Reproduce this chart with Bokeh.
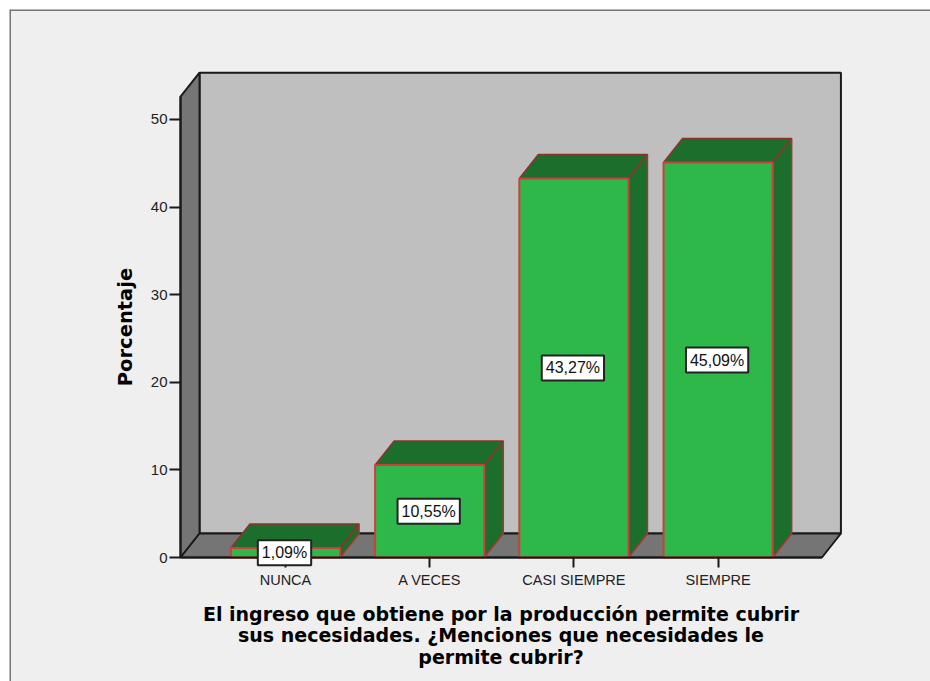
from bokeh.plotting import figure
from bokeh.models import LinearAxis, FixedTicker, Range1d, Label, Span
from bokeh.embed import file_html
from bokeh.resources import INLINE

categories = ["NUNCA", "A VECES", "CASI SIEMPRE", "SIEMPRE"]
percent = [1.09, 10.55, 43.27, 45.09]
bar_labels = ["1,09%", "10,55%", "43,27%", "45,09%"]
y_ticks = [0, 10, 20, 30, 40, 50]
x_title = "El ingreso que obtiene por la producción permite cubrir\nsus necesidades. ¿Menciones que necesidades le\npermite cubrir?"
y_title = "Porcentaje"

DX, DY = 0.1318, 2.74      # oblique depth, data units
BAR_W = 0.757
X0, X1 = -0.728, 3.72      # floor extent
WALL_TOP = 52.6

p = figure(width=930, height=681, output_backend="svg", toolbar_location=None,
           x_range=Range1d(-1.914, 4.473), y_range=Range1d(-14.155, 62.557),
           x_axis_type=None, y_axis_type=None,
           min_border_left=9, min_border_top=9, min_border_right=0, min_border_bottom=0,
           background_fill_color="#efefef", border_fill_color="#ffffff",
           outline_line_color=None)
p.grid.visible = False

p.add_layout(Span(location=-1.9105, dimension="height", line_color="#777777", line_width=2))
p.add_layout(Span(location=62.5, dimension="width", line_color="#777777", line_width=2))

WALL = "#1a1a1a"
p.patch([X0 + DX, X1 + DX, X1 + DX, X0 + DX], [DY, DY, WALL_TOP + DY, WALL_TOP + DY],
        fill_color="#bfbfbf", line_color=WALL, line_width=2)
p.patch([X0, X0 + DX, X0 + DX, X0], [0, DY, WALL_TOP + DY, WALL_TOP],
        fill_color="#757575", line_color=WALL, line_width=2)
p.patch([X0, X0 + DX, X1 + DX, X1], [0, DY, DY, 0],
        fill_color="#757575", line_color=WALL, line_width=2)

xs = list(range(len(categories)))
half = BAR_W / 2
p.patches([[x + half, x + half + DX, x + half + DX, x + half] for x in xs],
          [[0, DY, v + DY, v] for v in percent],
          fill_color="#1c6e2d", line_color="#a8352f", line_width=1.5)
p.patches([[x - half, x - half + DX, x + half + DX, x + half] for x in xs],
          [[v, v + DY, v + DY, v] for v in percent],
          fill_color="#1c6e2d", line_color="#8e332b", line_width=1.5)
p.vbar(x=xs, top=percent, bottom=0, width=BAR_W,
       fill_color="#2eb84a", line_color="#d23c3c", line_width=2)

yax = LinearAxis(fixed_location=X0, bounds=(0, WALL_TOP),
                 ticker=FixedTicker(ticks=y_ticks),
                 axis_label=y_title, axis_label_text_font="DejaVu Sans",
                 axis_label_text_font_style="bold", axis_label_text_font_size="19.5px",
                 axis_label_text_color="#000000", axis_label_standoff=11,
                 major_label_text_font="Liberation Sans", major_label_text_font_size="15px",
                 major_label_text_color="#222222", major_label_standoff=2,
                 major_tick_out=11, major_tick_in=0, major_tick_line_width=2,
                 major_tick_line_color=WALL, minor_tick_line_color=None,
                 axis_line_color=WALL, axis_line_width=2)
p.add_layout(yax, "left")

xax = LinearAxis(fixed_location=0, bounds=(X0, X1),
                 ticker=FixedTicker(ticks=xs),
                 major_label_overrides={i: c for i, c in enumerate(categories)},
                 axis_label=x_title, axis_label_text_font="DejaVu Sans",
                 axis_label_text_font_style="bold", axis_label_text_font_size="19px",
                 axis_label_text_line_height=0.98,
                 axis_label_text_color="#000000", axis_label_standoff=12,
                 major_label_text_font="Liberation Sans", major_label_text_font_size="14.5px",
                 major_label_text_color="#222222", major_label_standoff=4,
                 major_tick_out=10, major_tick_in=0, major_tick_line_width=2,
                 major_tick_line_color=WALL, minor_tick_line_color=None,
                 axis_line_color=WALL, axis_line_width=2)
p.add_layout(xax, "below")

for x, v, t in zip(xs, percent, bar_labels):
    p.add_layout(Label(x=x, y=v / 2, text=t, text_align="center", x_offset=-1,
                       text_baseline="middle", text_font="Liberation Sans",
                       text_font_size="16px", text_color="#111111",
                       background_fill_color="#ffffff", border_line_color="#222222",
                       border_line_width=2, padding=4))

open("out.html", "w").write(file_html(p, INLINE))
